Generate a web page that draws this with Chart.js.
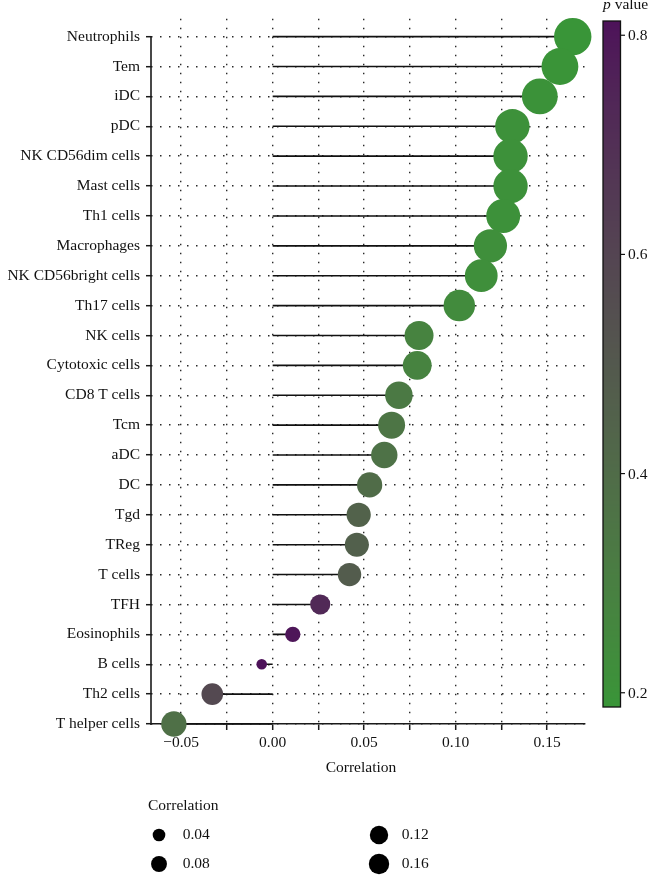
<!DOCTYPE html>
<html><head><meta charset="utf-8">
<script src="https://cdn.jsdelivr.net/npm/chart.js@4.4.1/dist/chart.umd.min.js"></script>
<style>html,body{margin:0;padding:0;background:#fff;}canvas{display:block}</style>
</head><body>
<canvas id="c" width="651" height="876"></canvas>
<script>
// ---------------- data ----------------
const categories = ["Neutrophils","Tem","iDC","pDC","NK CD56dim cells","Mast cells","Th1 cells","Macrophages","NK CD56bright cells","Th17 cells","NK cells","Cytotoxic cells","CD8 T cells","Tcm","aDC","DC","Tgd","TReg","T cells","TFH","Eosinophils","B cells","Th2 cells","T helper cells"];
const correlation = [0.164,0.157,0.146,0.131,0.130,0.130,0.126,0.119,0.114,0.102,0.080,0.079,0.069,0.065,0.061,0.053,0.047,0.046,0.042,0.026,0.011,-0.006,-0.033,-0.054];
const pValues = [0.187,0.19,0.20,0.21,0.21,0.21,0.21,0.22,0.22,0.24,0.28,0.28,0.33,0.35,0.37,0.40,0.45,0.46,0.48,0.73,0.80,0.813,0.58,0.38];
const xTicks = [-0.05,-0.025,0,0.025,0.05,0.075,0.10,0.125,0.15];
const xLabelTicks = [-0.05,0,0.05,0.10,0.15];
const colorbarTicks = [0.2,0.4,0.6,0.8];
const sizeLegendValues = [0.04,0.08,0.12,0.16];

// ---------------- styling ----------------
const FONT = "'Liberation Serif','Times New Roman',serif";
const FS = 15.5;
const LOW = [57,149,56], HIGH = [77,18,89];
const R_MIN = 5.3, R_MAX = 18.7, LEGEND_SCALE = 0.55;
const DOT = [1.5,7.5];
const n = categories.length;
const absC = correlation.map(Math.abs);
const cMin = Math.min(...absC), cMax = Math.max(...absC);
const pMin = Math.min(...pValues), pMax = Math.max(...pValues);

function radiusFor(c){
  const t = Math.max(0,(Math.abs(c)-cMin)/(cMax-cMin));
  return R_MIN + (R_MAX-R_MIN)*Math.sqrt(t);
}
function s2l(c){c/=255;return c<=0.04045?c/12.92:Math.pow((c+0.055)/1.055,2.4);}
function l2s(c){const v=c<=0.0031308?12.92*c:1.055*Math.pow(c,1/2.4)-0.055;return Math.round(Math.min(1,Math.max(0,v))*255);}
function toLab(rgb){
  const [R,G,B]=rgb.map(s2l);
  const X=(0.4124*R+0.3576*G+0.1805*B)/0.95047,Y=0.2126*R+0.7152*G+0.0722*B,Z=(0.0193*R+0.1192*G+0.9505*B)/1.08883;
  const f=t=>t>0.008856?Math.cbrt(t):7.787*t+16/116;
  const fx=f(X),fy=f(Y),fz=f(Z);
  return [116*fy-16,500*(fx-fy),200*(fy-fz)];
}
function fromLab(l){
  const fy=(l[0]+16)/116,fx=fy+l[1]/500,fz=fy-l[2]/200;
  const inv=f=>{const f3=f*f*f;return f3>0.008856?f3:(f-16/116)/7.787;};
  const X=inv(fx)*0.95047,Y=inv(fy),Z=inv(fz)*1.08883;
  const R=3.2406*X-1.5372*Y-0.4986*Z,G=-0.9689*X+1.8758*Y+0.0415*Z,B=0.0557*X-0.2040*Y+1.0570*Z;
  return 'rgb('+l2s(R)+','+l2s(G)+','+l2s(B)+')';
}
const LAB_LOW = toLab(LOW), LAB_HIGH = toLab(HIGH);
function colorFor(p){
  const t=Math.min(1,Math.max(0,(p-pMin)/(pMax-pMin)));
  return fromLab(LAB_LOW.map((v,i)=>v+(LAB_HIGH[i]-v)*t));
}

const rowY = i => n-1-i;
const bubbleData = categories.map((c,i)=>({x:correlation[i],y:rowY(i),r:radiusFor(correlation[i])}));
const bubbleColors = pValues.map(colorFor);
const stemData = [];
categories.forEach((c,i)=>{stemData.push({x:0,y:rowY(i)},{x:correlation[i],y:rowY(i)},{x:null,y:null});});

function fmt(v){
  if (Math.abs(v)<1e-9) return '0.00';
  return (v<0?'\u2212':'')+Math.abs(v).toFixed(2);
}

const extras = {
  id:'extras',
  beforeDatasetsDraw(chart){
    const ctx=chart.ctx, ys=chart.scales.y, a=chart.chartArea;
    ctx.save();
    ctx.strokeStyle='#1a1a1a'; ctx.lineWidth=1.6;
    ctx.beginPath();
    ctx.moveTo(a.left, ys.getPixelForValue(n-1)-0.5);
    ctx.lineTo(a.left, a.bottom+0.75);
    ctx.stroke();
    ctx.restore();
  },
  afterDraw(chart){
    const ctx=chart.ctx, a=chart.chartArea;
    ctx.save();
    ctx.fillStyle='#111';
    ctx.font=FS+'px '+FONT;
    // x-axis title
    ctx.textAlign='center'; ctx.textBaseline='middle';
    ctx.fillText('Correlation', (a.left+a.right)/2-7, 768);
    // colour bar
    const top=21, bot=707, L=603, W=17.5;
    for(let y=top;y<bot;y++){
      const p=pMax-(y+0.5-top)/(bot-top)*(pMax-pMin);
      ctx.fillStyle=colorFor(p);
      ctx.fillRect(L,y,W,1);
    }
    ctx.strokeStyle='#111'; ctx.lineWidth=1.3;
    ctx.strokeRect(L,top,W,bot-top);
    ctx.fillStyle='#111';
    ctx.textAlign='left'; ctx.textBaseline='middle';
    colorbarTicks.forEach(v=>{
      const py=top+(pMax-v)/(pMax-pMin)*(bot-top);
      ctx.beginPath(); ctx.moveTo(L+W,py); ctx.lineTo(L+W+4.5,py); ctx.lineWidth=1.2; ctx.stroke();
      ctx.fillText(v.toFixed(1), L+W+7.5, py+1);
    });
    // colour bar title
    ctx.textBaseline='alphabetic';
    ctx.font='italic '+FS+'px '+FONT;
    ctx.fillText('p', 603, 9);
    const pw=ctx.measureText('p').width;
    ctx.font=FS+'px '+FONT;
    ctx.fillText(' value', 603+pw, 9);
    // size legend
    ctx.textBaseline='middle';
    ctx.fillText('Correlation', 148, 806);
    const cols=[159,379], rows=[835,864], labX=[182.7,401.7];
    sizeLegendValues.forEach((v,k)=>{
      const col=Math.floor(k/2), row=k%2;
      ctx.fillStyle='#000';
      ctx.beginPath();
      ctx.arc(cols[col], rows[row], radiusFor(v)*LEGEND_SCALE, 0, Math.PI*2);
      ctx.fill();
      ctx.fillStyle='#111';
      ctx.fillText(v.toFixed(2), labX[col], rows[row]);
    });
    ctx.restore();
  }
};

new Chart(document.getElementById('c'), {
  type:'bubble',
  data:{datasets:[
    {type:'bubble', data:bubbleData, backgroundColor:bubbleColors, borderWidth:0, clip:false, order:0},
    {type:'line', data:stemData, borderColor:'#111', borderWidth:1.6, pointRadius:0, showLine:true, spanGaps:false, order:1, clip:false}
  ]},
  options:{
    responsive:false, animation:false, events:[],
    devicePixelRatio:1,
    layout:{padding:{top:14,right:66,bottom:99,left:0}},
    plugins:{legend:{display:false}, tooltip:{enabled:false}},
    scales:{
      x:{type:'linear', min:-0.0665, max:0.1707,
        afterBuildTicks:s=>{s.ticks=xTicks.map(v=>({value:v}));},
        afterFit:s=>{s.height=53;},
        ticks:{autoSkip:false, maxRotation:0, padding:4, color:'#111', font:{family:FONT,size:FS},
          callback:v=> xLabelTicks.some(t=>Math.abs(t-v)<1e-9)?fmt(v):''},
        grid:{color:'#2a2a2a', lineWidth:1.4, tickLength:6, tickColor:'#1a1a1a', tickWidth:1.5, tickBorderDash:[]},
        border:{display:true, color:'#1a1a1a', width:1.6, dash:DOT}
      },
      y:{type:'linear', min:0, max:23.6,
        afterBuildTicks:s=>{s.ticks=categories.map((c,i)=>({value:i}));},
        afterFit:s=>{s.width=151;},
        ticks:{autoSkip:false, padding:6, color:'#111', font:{family:FONT,size:FS},
          callback:v=>categories[n-1-v]},
        grid:{color:'#2a2a2a', lineWidth:1.4, tickLength:5, tickColor:'#1a1a1a', tickWidth:1.5, tickBorderDash:[]},
        border:{display:false, dash:DOT}
      }
    }
  },
  plugins:[extras]
});
</script>
</body></html>
